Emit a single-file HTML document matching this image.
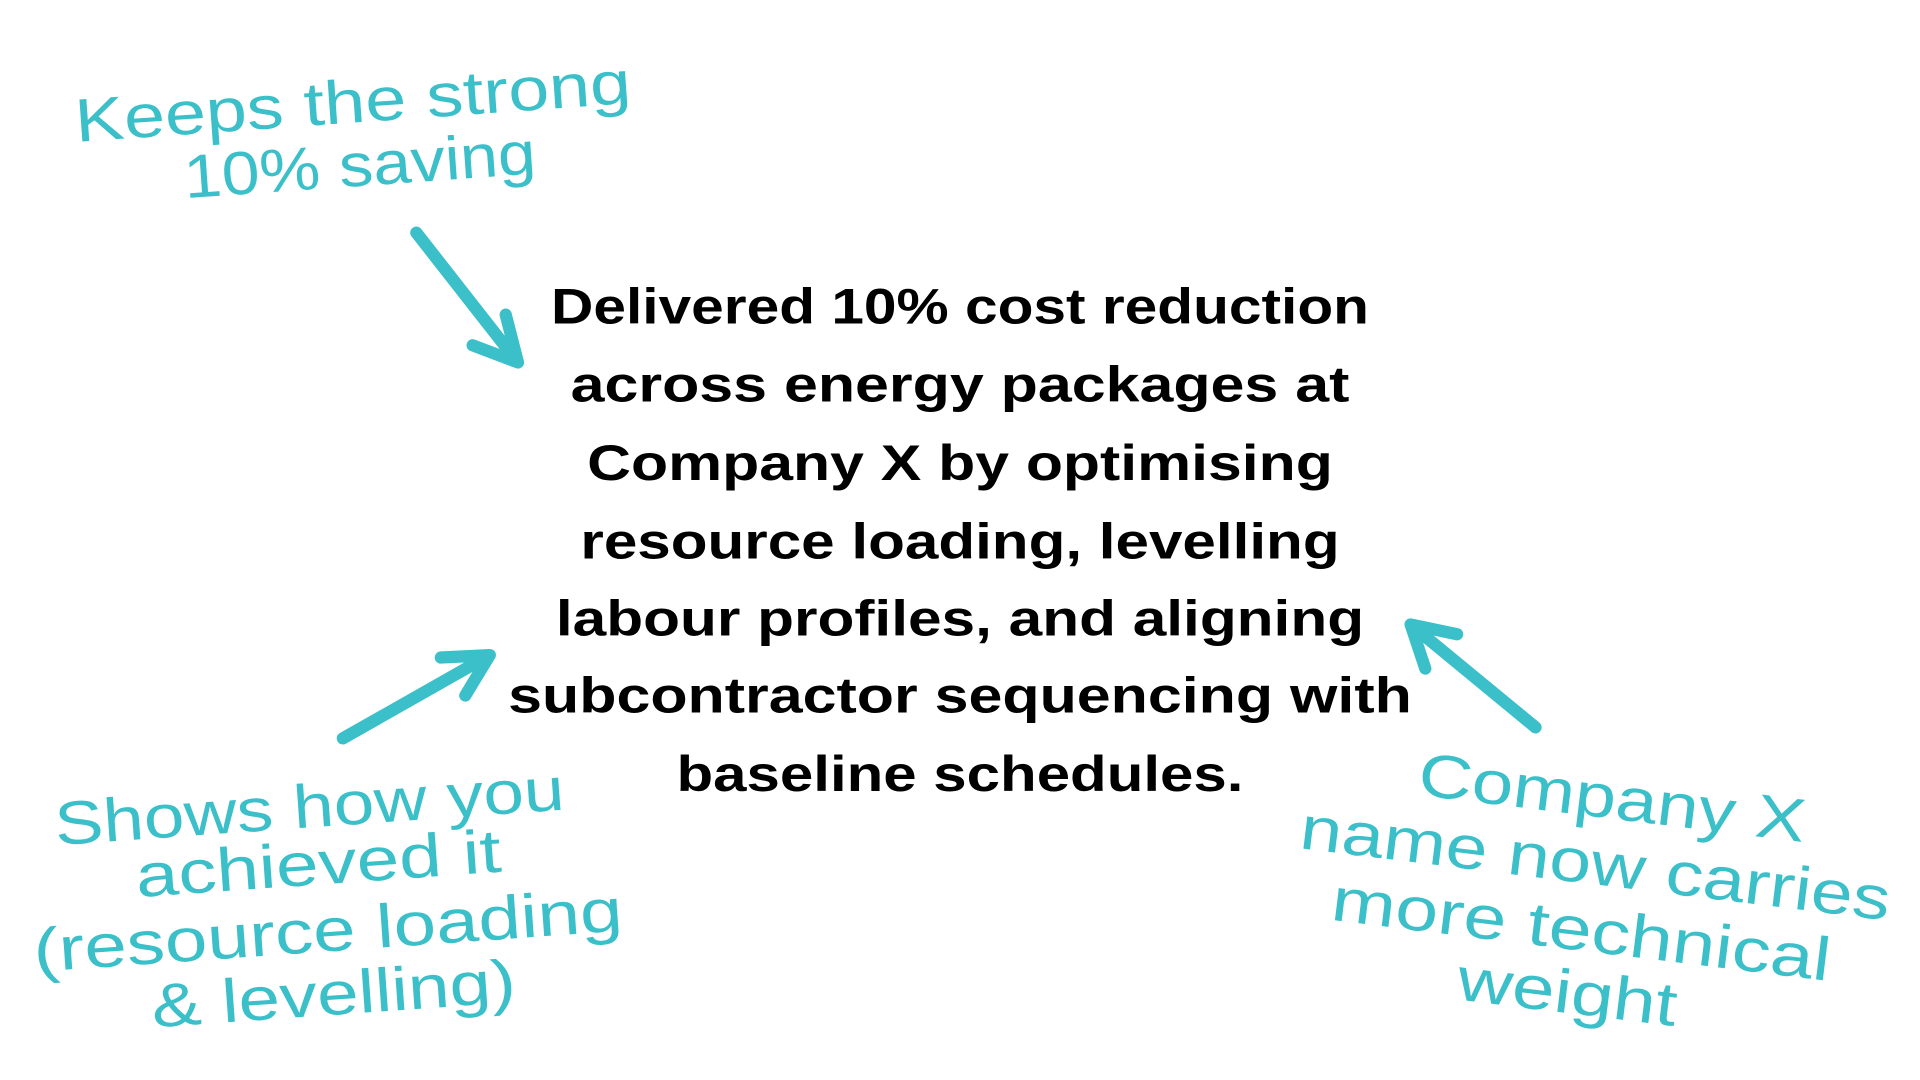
<!DOCTYPE html>
<html><head><meta charset="utf-8"><style>
html,body{margin:0;padding:0;background:#fff;width:1920px;height:1080px;overflow:hidden}
svg{display:block}
.b{font-family:"Liberation Sans",sans-serif;font-weight:bold;font-size:41px;fill:#000}
.t{font-family:"Liberation Sans",sans-serif;font-size:50px;fill:#3bbfc9}
</style></head><body>
<svg width="1920" height="1080" viewBox="0 0 1568 882" preserveAspectRatio="none">
<g class="b" text-anchor="middle">
<text x="784" y="264" textLength="668" lengthAdjust="spacingAndGlyphs">Delivered 10% cost reduction</text>
<text x="784" y="328" textLength="636" lengthAdjust="spacingAndGlyphs">across energy packages at</text>
<text x="784" y="392" textLength="609" lengthAdjust="spacingAndGlyphs">Company X by optimising</text>
<text x="784" y="456" textLength="620" lengthAdjust="spacingAndGlyphs">resource loading, levelling</text>
<text x="784" y="519" textLength="660" lengthAdjust="spacingAndGlyphs">labour profiles, and aligning</text>
<text x="784" y="582" textLength="738" lengthAdjust="spacingAndGlyphs">subcontractor sequencing with</text>
<text x="784" y="646" textLength="463" lengthAdjust="spacingAndGlyphs">baseline schedules.</text>
</g>
<g class="t" text-anchor="middle">
<g transform="rotate(-4 290 110)">
<text x="290" y="100" textLength="455" lengthAdjust="spacingAndGlyphs">Keeps the strong</text>
<text x="292" y="152" textLength="288" lengthAdjust="spacingAndGlyphs">10% saving</text>
</g>
<g transform="rotate(-4 265 735)">
<text x="258" y="675" textLength="417" lengthAdjust="spacingAndGlyphs">Shows how you</text>
<text x="262" y="722" textLength="299" lengthAdjust="spacingAndGlyphs">achieved it</text>
<text x="266" y="777" textLength="482" lengthAdjust="spacingAndGlyphs">(resource loading</text>
<text x="267" y="829" textLength="298" lengthAdjust="spacingAndGlyphs">&amp; levelling)</text>
</g>
<g transform="rotate(7 1300 730)">
<text x="1307" y="667" textLength="318" lengthAdjust="spacingAndGlyphs">Company X</text>
<text x="1300" y="722" textLength="485" lengthAdjust="spacingAndGlyphs">name now carries</text>
<text x="1295" y="777" textLength="410" lengthAdjust="spacingAndGlyphs">more technical</text>
<text x="1290" y="829" textLength="180" lengthAdjust="spacingAndGlyphs">weight</text>
</g>
</g>
<g stroke="#3bbfc9" stroke-width="10" fill="none" stroke-linecap="round" stroke-linejoin="round">
<path d="M340 190 L423 296 M386 282 L423 296 L413 257"/>
<path d="M280 603 L400 535 M360 537 L400 535 L380 568"/>
<path d="M1254 594 L1152 510 M1190 518 L1152 510 L1164 546"/>
</g>
</svg>
</body></html>
